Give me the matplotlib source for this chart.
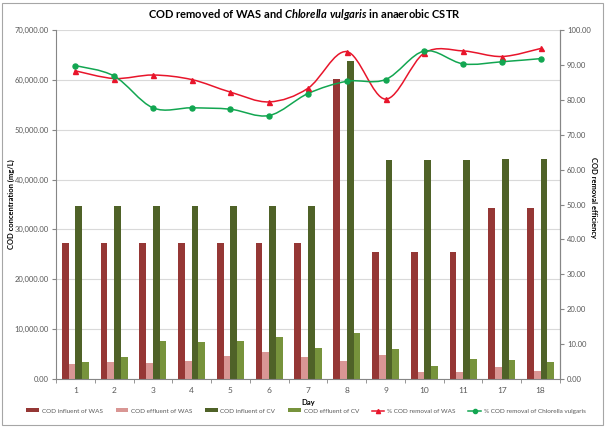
import matplotlib
matplotlib.use('Agg')
import matplotlib.pyplot as plt
import numpy as np
from matplotlib.path import Path
from matplotlib.patches import PathPatch, Rectangle, Patch
from matplotlib.lines import Line2D
from matplotlib.ticker import StrMethodFormatter, MultipleLocator

plt.rcParams['font.family'] = ['Lato', 'DejaVu Sans']
plt.rcParams['mathtext.fontset'] = 'custom'
plt.rcParams['mathtext.it'] = 'Lato:bold:italic'
plt.rcParams['mathtext.rm'] = 'Lato:bold'

days = ['1', '2', '3', '4', '5', '6', '7', '8', '9', '10', '11', '17', '18']
influent_was = [27200, 27200, 27200, 27200, 27200, 27200, 27200, 60200, 25500, 25500, 25500, 34200, 34200]
effluent_was = [3100, 3500, 3300, 3700, 4700, 5500, 4400, 3600, 4900, 1500, 1400, 2400, 1700]
influent_cv = [34600, 34600, 34600, 34600, 34600, 34600, 34600, 63800, 44000, 44000, 44000, 44200, 44200]
effluent_cv = [3400, 4500, 7600, 7500, 7700, 8400, 6200, 9300, 6100, 2600, 4100, 3900, 3400]
removal_was = [88.3, 86.1, 87.1, 85.8, 82.2, 79.4, 83.3, 93.8, 80.2, 93.4, 94.0, 92.4, 94.7]
removal_cv = [89.8, 86.8, 77.7, 77.7, 77.3, 75.5, 81.8, 85.3, 85.8, 94.0, 90.3, 90.9, 91.8]

bar_names = ['COD influent of WAS', 'COD effluent of WAS', 'COD influent of CV', 'COD effluent of CV']
bar_colors = ['#953735', '#D99694', '#4F6228', '#77933C']
line_names = ['% COD removal of WAS', '% COD removal of Chlorella vulgaris']
line_colors = ['#E8152B', '#12A651']
text_gray = '#595959'


def smooth_path(x, y):
    # excel-like smoothed line: cubic bezier through the points
    pts = np.column_stack([x, y]).astype(float)
    n = len(pts)
    verts = [pts[0]]
    codes = [Path.MOVETO]
    for i in range(n - 1):
        p0 = pts[i - 1] if i > 0 else pts[i]
        p3 = pts[i + 2] if i + 2 < n else pts[i + 1]
        c1 = pts[i] + (pts[i + 1] - p0) / 6.0
        c2 = pts[i + 1] - (p3 - pts[i]) / 6.0
        verts += [c1, c2, pts[i + 1]]
        codes += [Path.CURVE4] * 3
    return Path(verts, codes)


fig = plt.figure(figsize=(6.06, 4.28), dpi=100)
fig.patches.append(Rectangle((2 / 606, 3 / 428), 601 / 606, 422 / 428, transform=fig.transFigure,
                             fill=False, edgecolor='#A6A6A6', linewidth=0.8))

ax = fig.add_axes([56 / 606, 1 - 379 / 428, 504 / 606, 349 / 428])
ax2 = ax.twinx()

x = np.arange(len(days))
w = 0.175
for k, (vals, col, name) in enumerate(zip([influent_was, effluent_was, influent_cv, effluent_cv], bar_colors, bar_names)):
    ax.bar(x + (k - 1.5) * w, vals, width=w, color=col, label=name, zorder=2)

ax.set_xlim(-0.5, len(days) - 0.5)
ax.set_ylim(0, 70000)
ax.yaxis.set_major_locator(MultipleLocator(10000))
ax.yaxis.set_major_formatter(StrMethodFormatter('{x:,.2f}'))
ax.set_axisbelow(True)
ax.grid(axis='y', color='#D9D9D9', linewidth=0.8)
ax.set_xticks(x)
ax.set_xticklabels(days)
ax.set_xticks(np.arange(len(days) + 1) - 0.5, minor=True)
ax.tick_params(axis='x', which='major', length=0, labelsize=6, colors=text_gray, pad=6)
ax.tick_params(axis='x', which='minor', length=3, color='#868686')
ax.tick_params(axis='y', length=3, color='#868686', labelsize=5.5, labelcolor=text_gray, pad=2)
for s in ['top']:
    ax.spines[s].set_visible(False)
    ax2.spines[s].set_visible(False)
for s in ['left', 'bottom', 'right']:
    ax.spines[s].set_color('#868686')
    ax.spines[s].set_linewidth(0.8)
ax2.spines['right'].set_color('#868686')
ax2.spines['right'].set_linewidth(0.8)
ax2.spines['left'].set_visible(False)
ax2.spines['bottom'].set_visible(False)

ax.set_xlabel('Day', fontsize=5.5, fontweight='bold', labelpad=3)
ax.set_ylabel('COD concentration (mg/L)', fontsize=5.5, fontweight='bold')
ax.yaxis.set_label_coords(-41 / 504, 0.5)

ax2.set_ylim(0, 100)
ax2.yaxis.set_major_locator(MultipleLocator(10))
ax2.yaxis.set_major_formatter(StrMethodFormatter('{x:.2f}'))
ax2.tick_params(axis='y', length=3, color='#868686', labelsize=5.5, labelcolor=text_gray, pad=2)
ax2.set_ylabel('COD removal efficiency', fontsize=5.5, fontweight='bold', rotation=270, va='center')
ax2.yaxis.set_label_coords(538 / 504, 0.52)

markers = ['^', 'o']
for vals, col, mk in zip([removal_was, removal_cv], line_colors, markers):
    ax2.add_patch(PathPatch(smooth_path(x, vals), fill=False, edgecolor=col, linewidth=1.1, zorder=3))
    ax2.plot(x, vals, linestyle='none', marker=mk, markersize=3.6, color=col, zorder=4)

fig.text(304 / 606, 1 - 15 / 428, r'COD removed of WAS and $\mathit{Chlorella\ vulgaris}$ in anaerobic CSTR',
         ha='center', va='center', fontsize=8, fontweight='bold')

handles = [Patch(facecolor=c, label=n) for c, n in zip(bar_colors, bar_names)]
handles += [Line2D([], [], color=c, marker=m, markersize=3, linewidth=1.1, label=n)
            for c, m, n in zip(line_colors, markers, line_names)]
leg = fig.legend(handles=handles, loc='center', bbox_to_anchor=(306 / 606, 1 - 411 / 428), ncol=6,
                 frameon=False, fontsize=4.6, handlelength=2.0, handleheight=0.5, columnspacing=2.0,
                 handletextpad=0.4)
for t in leg.get_texts():
    t.set_color(text_gray)

fig.savefig('out.png', dpi=100)
